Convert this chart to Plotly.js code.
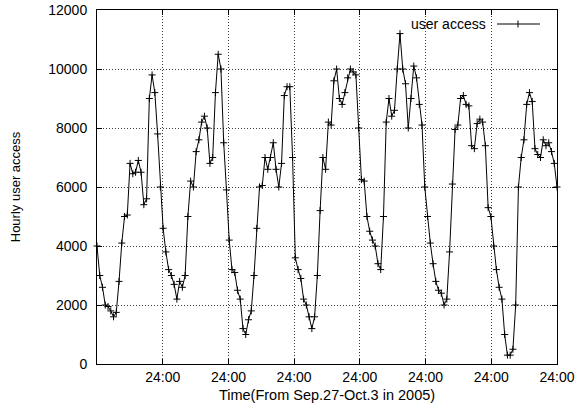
<!DOCTYPE html>
<html>
<head>
<meta charset="utf-8">
<script src="https://cdn.plot.ly/plotly-3.0.1.min.js"></script>
<style>
  html, body { margin: 0; padding: 0; background: #ffffff; }
  #chart { width: 578px; height: 414px; }
</style>
</head>
<body>
<div id="chart"></div>
<script>
// Hourly user access, Sep.27 - Oct.3 2005 (one sample per hour)
const seriesName = 'user access';
const xTickHours = [24, 48, 72, 96, 120, 144, 168];
const xTickLabels = ['24:00', '24:00', '24:00', '24:00', '24:00', '24:00', '24:00'];
const yTickValues = [0, 2000, 4000, 6000, 8000, 10000, 12000];

const day1 = [4000, 3000, 2600, 2000, 1950, 1800, 1600, 1750, 2800, 4100, 5000, 5050,
              6800, 6450, 6500, 6900, 6500, 5400, 5600, 9000, 9800, 9200, 7800, 6000, 4600];
const day2 = [3800, 3200, 3000, 2700, 2200, 2800, 2600, 3000, 5000, 6200, 6000, 7200,
              7600, 8200, 8400, 8000, 6800, 7000, 9200, 10500, 10000, 7500, 5900, 4200];
const day3 = [3200, 3100, 2500, 2200, 1200, 1000, 1500, 1800, 3000, 4600, 6000, 6050,
              7000, 6600, 7000, 7500, 6600, 6000, 6800, 9100, 9400, 9400, 7000, 3600];
const day4 = [3200, 2900, 2200, 2000, 1600, 1200, 1600, 3000, 5200, 7000, 6600, 8200,
              8100, 9600, 10000, 9000, 8800, 9200, 9700, 10000, 9900, 9800, 8000, 6250];
const day5 = [6200, 5000, 4500, 4200, 4000, 3400, 3200, 5000, 8200, 9000, 8400, 8600,
              10000, 11200, 10000, 9500, 8000, 9000, 10100, 9700, 8800, 8100, 6000, 5000];
const day6 = [4100, 3400, 2800, 2500, 2400, 2000, 2200, 3800, 6100, 7950, 8100, 9000,
              9100, 8800, 8750, 7400, 7300, 8150, 8300, 8200, 7400, 5300, 5000, 4000];
const day7 = [3200, 2600, 2200, 1000, 300, 300, 500, 2000, 6000, 7000, 7600, 8800,
              9200, 8900, 7300, 7100, 7000, 7600, 7400, 7500, 7200, 6800, 6000];

const hourlyAccess = [].concat(day1, day2, day3, day4, day5, day6, day7);
// samples are evenly spread over the week (hours 0..168)
const hours = hourlyAccess.map((_, i) => i * 168 / (hourlyAccess.length - 1));

const fontFamily = 'Liberation Sans, Arial, Helvetica, sans-serif';
const tickFont = { family: fontFamily, size: 14, color: '#000' };

const trace = {
  type: 'scatter',
  mode: 'lines+markers',
  name: seriesName,
  x: hours,
  y: hourlyAccess,
  line: { color: '#000', width: 1 },
  marker: { symbol: 'cross-thin-open', size: 5, color: '#000', line: { color: '#000', width: 1 } },
  showlegend: false,
  cliponaxis: false
};

// legend key in gnuplot style: label first, then the line sample with its point
const kx0 = (497 - 97) / 460, kx1 = (540 - 97) / 460, kxm = (518 - 97) / 460;
const ky = (364 - 24) / 354;
const shapes = [
  { type: 'line', xref: 'paper', yref: 'paper', x0: kx0, x1: kx1, y0: ky, y1: ky, line: { color: '#000', width: 1 } },
  { type: 'line', xref: 'paper', yref: 'paper', x0: kxm, x1: kxm, y0: ky - 3.5 / 354, y1: ky + 3.5 / 354, line: { color: '#000', width: 1 } }
];

const axisCommon = {
  showline: true, linecolor: '#000', linewidth: 1, mirror: 'ticks',
  ticks: 'inside', ticklen: 5, tickcolor: '#000', tickwidth: 1,
  showgrid: true, gridcolor: '#3a3a3a', griddash: '1px,2px', gridwidth: 1,
  zeroline: false, tickfont: tickFont, fixedrange: true
};

const layout = {
  width: 578, height: 414,
  margin: { l: 97, r: 21, t: 10, b: 50, pad: 0 },
  paper_bgcolor: '#fff', plot_bgcolor: '#fff',
  font: tickFont,
  showlegend: false,
  xaxis: Object.assign({}, axisCommon, {
    range: [0, 168], tickmode: 'array', tickvals: xTickHours, ticktext: xTickLabels,
    ticklabelstandoff: 0,
    title: { text: 'Time(From Sep.27-Oct.3 in 2005)', font: { family: fontFamily, size: 14.5, color: '#000' }, standoff: 6 }
  }),
  yaxis: Object.assign({}, axisCommon, {
    range: [0, 12000], tickmode: 'array', tickvals: yTickValues,
    ticktext: yTickValues.map(String), ticklabelstandoff: 6,
    title: { text: 'Hourly user access', font: { family: fontFamily, size: 13, color: '#000' }, standoff: 24 }
  }),
  shapes: shapes,
  annotations: [{
    xref: 'paper', yref: 'paper', x: (488 - 97) / 460, y: ky, xanchor: 'right', yanchor: 'middle',
    text: seriesName, showarrow: false, font: tickFont
  }]
};

Plotly.newPlot('chart', [trace], layout, { staticPlot: true, displayModeBar: false });
</script>
</body>
</html>
